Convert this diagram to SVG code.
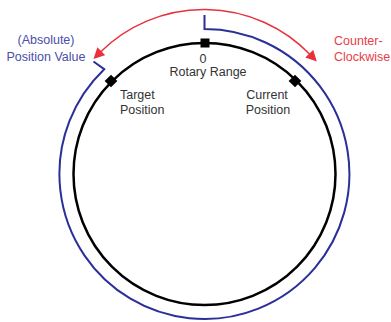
<svg xmlns="http://www.w3.org/2000/svg" width="391" height="322" viewBox="0 0 391 322">
<style>
text{font-family:"Liberation Sans",Arial,sans-serif;font-size:12.5px}
.lbl{fill:#333}
.blu{fill:#4b4ea8}
.red{fill:#e8404a}
.mk{fill:#000}
</style>
<defs>
<marker id="ah" viewBox="0 0 10 10" refX="1" refY="5" markerWidth="12" markerHeight="11" markerUnits="userSpaceOnUse" orient="auto-start-reverse">
<path d="M0 0 L10 5 L0 10 Z" fill="#e8313c"/>
</marker>
</defs>
<rect width="391" height="322" fill="#fff"/>
<g id="connectors">
<path id="ccw-arrow" d="M100.5 52 A147.3 147.3 0 0 1 310 54.5" fill="none" stroke="#e8313c" stroke-width="1.5" marker-start="url(#ah)" marker-end="url(#ah)"/>
<path id="position-value" d="M204.5 15 L204.5 29 A145 145 0 1 1 104.2 69.2 L93.5 61.5" fill="none" stroke="#2b2f98" stroke-width="2"/>
</g>
<g id="rotary-range">
<circle cx="204.5" cy="174" r="131" fill="none" stroke="#000" stroke-width="2.5"/>
</g>
<g id="zero">
<rect class="mk" x="200.5" y="38.5" width="9" height="9"/>
<text class="lbl" x="203" y="63" text-anchor="middle">0</text>
<text class="lbl" x="208" y="76" text-anchor="middle">Rotary Range</text>
</g>
<g id="target">
<rect class="mk" x="-4.5" y="-4.5" width="9" height="9" transform="translate(111 81) rotate(45)"/>
<text class="lbl" x="120" y="99">Target</text>
<text class="lbl" x="120" y="114">Position</text>
</g>
<g id="current">
<rect class="mk" x="-4.5" y="-4.5" width="9" height="9" transform="translate(295 81) rotate(45)"/>
<text class="lbl" x="267" y="99" text-anchor="middle">Current</text>
<text class="lbl" x="268" y="114" text-anchor="middle">Position</text>
</g>
<g id="absolute-label">
<text class="blu" x="46" y="44" text-anchor="middle">(Absolute)</text>
<text class="blu" x="46" y="61" text-anchor="middle">Position Value</text>
</g>
<g id="ccw-label">
<text class="red" x="334" y="45">Counter-</text>
<text class="red" x="334" y="61">Clockwise</text>
</g>
</svg>
